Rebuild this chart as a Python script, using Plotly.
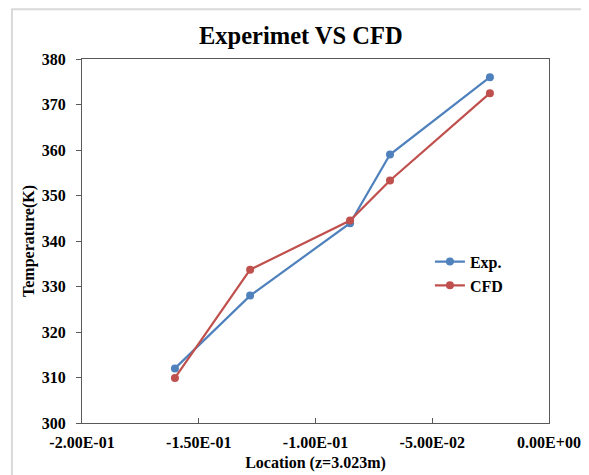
import plotly.graph_objects as go

location = [-0.1602, -0.128, -0.0852, -0.0681, -0.0253]
exp_temp = [312.0, 328.0, 343.9, 359.0, 376.0]
cfd_temp = [309.9, 333.7, 344.5, 353.3, 372.5]
x_tickvals = [-0.2, -0.15, -0.1, -0.05, 0.0]
x_ticktext = ["-2.00E-01", "-1.50E-01", "-1.00E-01", "-5.00E-02", "0.00E+00"]
y_tickvals = [300, 310, 320, 330, 340, 350, 360, 370, 380]

font_family = "Liberation Serif, Times New Roman, serif"

fig = go.Figure()
fig.add_trace(go.Scatter(x=location, y=exp_temp, name="<b>Exp.</b>", mode="lines+markers",
                         line=dict(color="#4f81bd", width=2.2),
                         marker=dict(color="#4f81bd", size=8)))
fig.add_trace(go.Scatter(x=location, y=cfd_temp, name="<b>CFD</b>", mode="lines+markers",
                         line=dict(color="#c0504d", width=2.2),
                         marker=dict(color="#c0504d", size=8)))

fig.update_layout(
    width=581, height=467,
    margin=dict(l=74, r=40, t=51, b=52, autoexpand=False),
    paper_bgcolor="white", plot_bgcolor="white",
    font=dict(family=font_family, size=16, color="black"),
    title=dict(text="<b>Experimet VS CFD</b>", x=0.504, xanchor="center", xref="container",
               y=0.942, yanchor="middle", yref="container", font=dict(size=24.5, family=font_family)),
    legend=dict(x=0.745, y=0.49, xanchor="left", yanchor="top", bgcolor="rgba(0,0,0,0)",
                font=dict(size=16, family=font_family)),
    showlegend=True,
)
fig.update_xaxes(range=[-0.2, 0.0], tickvals=x_tickvals, ticktext=[f"<b>{t}</b>" for t in x_ticktext],
                 showgrid=False, zeroline=False, showline=True, linecolor="#595959", linewidth=1,
                 mirror=True, ticks="inside", ticklen=5, tickcolor="#595959", automargin=False,
                 ticklabelstandoff=5,
                 title=dict(text="<b>Location (z=3.023m)</b>", standoff=6, font=dict(size=16)),
                 tickfont=dict(size=16))
fig.update_yaxes(range=[300, 380], tickvals=y_tickvals, ticktext=[f"<b>{v}</b>" for v in y_tickvals],
                 showgrid=False, zeroline=False, showline=True, linecolor="#595959", linewidth=1,
                 mirror=True, ticks="outside", ticklen=5, tickcolor="#595959", automargin=False,
                 ticklabelstandoff=7,
                 title=dict(text="<b>Temperature(K)</b>", standoff=3, font=dict(size=16)),
                 tickfont=dict(size=16))

fig.add_shape(type="rect", xref="paper", yref="paper", x0=-0.15, x1=2.0, y0=-1.0, y1=1.137,
              line=dict(color="#d9d9d9", width=2), fillcolor="rgba(0,0,0,0)", layer="below")

fig.write_html("out.html", config={"displayModeBar": False})
